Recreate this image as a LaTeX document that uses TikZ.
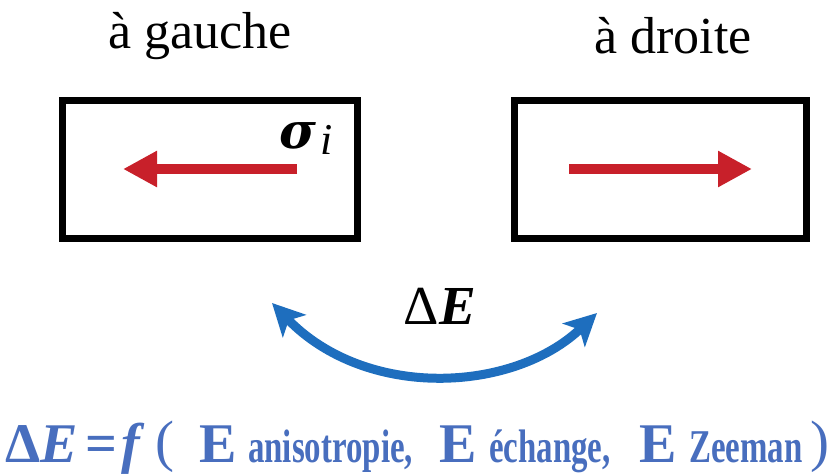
\documentclass[tikz,border=0pt]{standalone}
\usepackage{fontspec}
\setmainfont{Liberation Serif}
\newfontfamily\narrowserif[FakeStretch=0.7]{Liberation Serif}
\newfontfamily\spinfont{DejaVu Serif}
\usetikzlibrary{arrows.meta}
\definecolor{spinred}{RGB}{200,32,42}
\definecolor{arcblue}{RGB}{30,110,190}
\definecolor{textblue}{RGB}{72,110,190}
\tikzset{
  statebox/.style={draw=black, line width=7pt},
  spinarrow/.style={spinred, line width=10pt, -{Triangle[length=34pt,width=34pt]}},
  flip/.style={arcblue, line width=9pt, {Stealth[length=32pt,width=32pt,inset=8pt]}-{Stealth[length=32pt,width=32pt,inset=8pt]}},
  formula/.style={textblue, anchor=base west, inner sep=0pt, font=\fontsize{56}{60}\selectfont\bfseries},
  subword/.style={textblue, anchor=base west, inner sep=0pt, font=\narrowserif\fontsize{47}{50}\selectfont\bfseries}
}
\begin{document}
\begin{tikzpicture}[x=1pt, y=-1pt]
            \useasboundingbox (0,0) rectangle (835,474);

            % Titles
            \node (gauche) at (200,36) {\fontsize{52}{56}\selectfont à gauche};
            \node (droite) at (673,36) {\fontsize{52}{56}\selectfont à droite};

            % The two states
            \draw [statebox] (62,100) rectangle (357,238);
            \draw [statebox] (514,100) rectangle (806,238);

            % Spin direction
            \draw [spinarrow] (297,169) -- (123,169);
            \draw [spinarrow] (569,169) -- (752,169);
            \node [anchor=base west, inner sep=0pt] (sigma) at (279,148) {\fontsize{50}{54}\selectfont\spinfont\bfseries\itshape σ};
            \node [anchor=base west, inner sep=0pt] (index) at (320,154) {\fontsize{44}{48}\selectfont\itshape i};

            % Switching between the states
            \coordinate (left end) at (272,303);
            \coordinate (right end) at (597,313);
            \draw [flip] (left end) .. controls (366,400) and (513,393) .. (right end);
            \node (dE) at (440,306) {\fontsize{55}{58}\selectfont Δ\textbf{\textit{E}}};

            % Energy balance
            \node [formula] (delta) at (5,462) {Δ\textit{E}};
            \node [formula] (equals) at (85,462) {=};
            \node [formula] (func) at (121,462) {\textit{f}};
            \node [formula, font=\fontsize{57}{60}\selectfont] (open) at (155,460) {(};
            \node [formula] (E1) at (199,462) {E};
            \node [subword] (aniso) at (248,462) {anisotropie,};
            \node [formula] (E2) at (439,462) {E};
            \node [subword] (exch) at (489,462) {échange,};
            \node [formula] (E3) at (639,462) {E};
            \node [subword] (zeeman) at (689,462) {Zeeman};
            \node [formula, font=\fontsize{57}{60}\selectfont] (close) at (810,460) {)};
        \end{tikzpicture}
\end{document}
